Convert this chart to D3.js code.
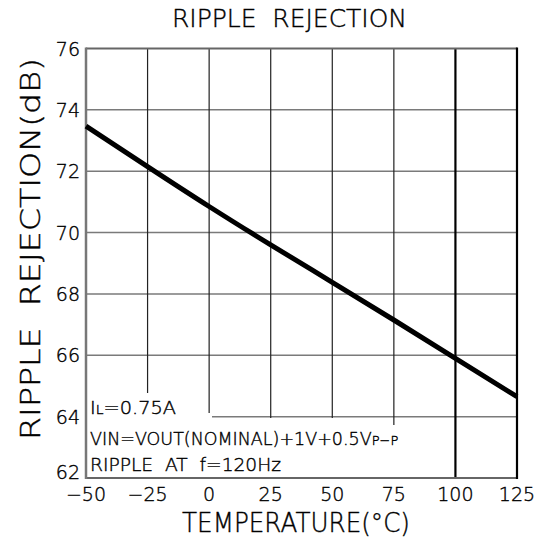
<!DOCTYPE html>
<html><head><meta charset="utf-8">
<script src="https://cdn.jsdelivr.net/npm/d3@7/dist/d3.min.js"></script>
<style>html,body{margin:0;padding:0;background:#fff;}svg{display:block;} text{white-space:pre;}</style>
</head><body>
<script>
// ---- data ----
const temperatures = [-50, -25, 0, 25, 50, 75, 100, 125];
const rippleRejection = [73.47, 72.15, 70.85, 69.6, 68.38, 67.15, 65.9, 64.65];
const xTicks = [-50, -25, 0, 25, 50, 75, 100, 125];
const yTicks = [62, 64, 66, 68, 70, 72, 74, 76];
const titleText = "RIPPLE  REJECTION";
const xTitle = "TEMPERATURE(°C)";
const yTitle = "RIPPLE  REJECTION(dB)";

const W = 539, H = 542;
const FONT = "'DejaVu Sans', 'Liberation Sans', Arial, sans-serif";
const WT = 200;
const svg = d3.select("body").append("svg").attr("width", W).attr("height", H);

const x = d3.scaleLinear().domain([-50, 125]).range([86, 517]);
const y = d3.scaleLinear().domain([62, 76]).range([478, 48.5]);

// grid
svg.append("g").selectAll("line").data(yTicks.slice(1, -1)).join("line")
  .attr("x1", x(-50)).attr("x2", x(125)).attr("y1", d => y(d)).attr("y2", d => y(d))
  .attr("stroke", "#7a7a7a").attr("stroke-width", 1.5);
svg.append("g").selectAll("line").data(xTicks.slice(1, -1)).join("line")
  .attr("x1", d => x(d)).attr("x2", d => x(d)).attr("y1", y(76)).attr("y2", y(62))
  .attr("stroke", d => d === 100 ? "#000" : "#222").attr("stroke-width", d => d === 100 ? 2.2 : 1.2);

// white area behind annotation
const masks = [[87, 393, 206, 478], [87, 413, 212, 478], [87, 418, 385, 478], [87, 425, 400, 478]];
svg.append("g").selectAll("rect").data(masks).join("rect")
  .attr("x", d => d[0]).attr("y", d => d[1]).attr("width", d => d[2] - d[0]).attr("height", d => d[3] - d[1] - 1)
  .attr("fill", "#fff");

// frame
svg.append("line").attr("x1", x(-50)).attr("x2", x(125)).attr("y1", y(76)).attr("y2", y(76)).attr("stroke", "#666").attr("stroke-width", 2);
svg.append("line").attr("x1", x(-50)).attr("x2", x(125)).attr("y1", y(62)).attr("y2", y(62)).attr("stroke", "#666").attr("stroke-width", 2);
svg.append("line").attr("x1", x(-50)).attr("x2", x(-50)).attr("y1", y(76)-1).attr("y2", y(62)+1).attr("stroke", "#777").attr("stroke-width", 2.5);
svg.append("line").attr("x1", x(125)).attr("x2", x(125)).attr("y1", y(76)-1).attr("y2", y(62)+1).attr("stroke", "#000").attr("stroke-width", 2.2);

// curve
const pts = temperatures.map((t, i) => [t, rippleRejection[i]]);
svg.append("path").datum(pts)
  .attr("d", d3.line().x(d => x(d[0])).y(d => y(d[1])).curve(d3.curveNatural))
  .attr("fill", "none").attr("stroke", "#000").attr("stroke-width", 5);

const txt = svg.append("g").attr("font-family", FONT).attr("font-weight", WT)
  .attr("fill", "#000").attr("stroke", "#000").attr("stroke-width", 0.4);

// tick labels
const fmt = d3.format("d");
txt.append("g").selectAll("text").data(yTicks).join("text")
  .attr("x", 80).attr("y", d => y(d) + (d === 62 ? 1 : 7)).attr("text-anchor", "end")
  .attr("font-size", 19).text(fmt);
txt.append("g").selectAll("text").data(xTicks).join("text")
  .attr("x", d => x(d)).attr("y", 501).attr("text-anchor", "middle")
  .attr("font-size", 19).text(fmt);

// titles
txt.append("text").attr("x", 172).attr("y", 27).attr("font-size", 25)
  .attr("textLength", 235).attr("lengthAdjust", "spacingAndGlyphs").text(titleText);
txt.append("text").attr("x", 182).attr("y", 532).attr("font-size", 26)
  .attr("textLength", 228).attr("lengthAdjust", "spacingAndGlyphs").text(xTitle);
txt.append("text").attr("transform", "translate(40,440) rotate(-90)").attr("font-size", 26)
  .attr("textLength", 382).attr("lengthAdjust", "spacingAndGlyphs").text(yTitle);

// annotation
const t1 = txt.append("text").attr("x", 90).attr("y", 414).attr("font-size", 18)
  .attr("textLength", 86).attr("lengthAdjust", "spacingAndGlyphs");
t1.append("tspan").text("I");
t1.append("tspan").attr("font-size", 13).text("L");
t1.append("tspan").text("=0.75A");
const t2 = txt.append("text").attr("x", 90).attr("y", 445).attr("font-size", 17.5);
t2.append("tspan").text("VIN=VOUT(NOMINAL)+1V+0.5V");
t2.append("tspan").attr("font-size", 13).text("P−P");
txt.append("text").attr("x", 90).attr("y", 471).attr("font-size", 18)
  .attr("textLength", 191).attr("lengthAdjust", "spacingAndGlyphs").text("RIPPLE  AT  f=120Hz");
</script>
</body></html>
